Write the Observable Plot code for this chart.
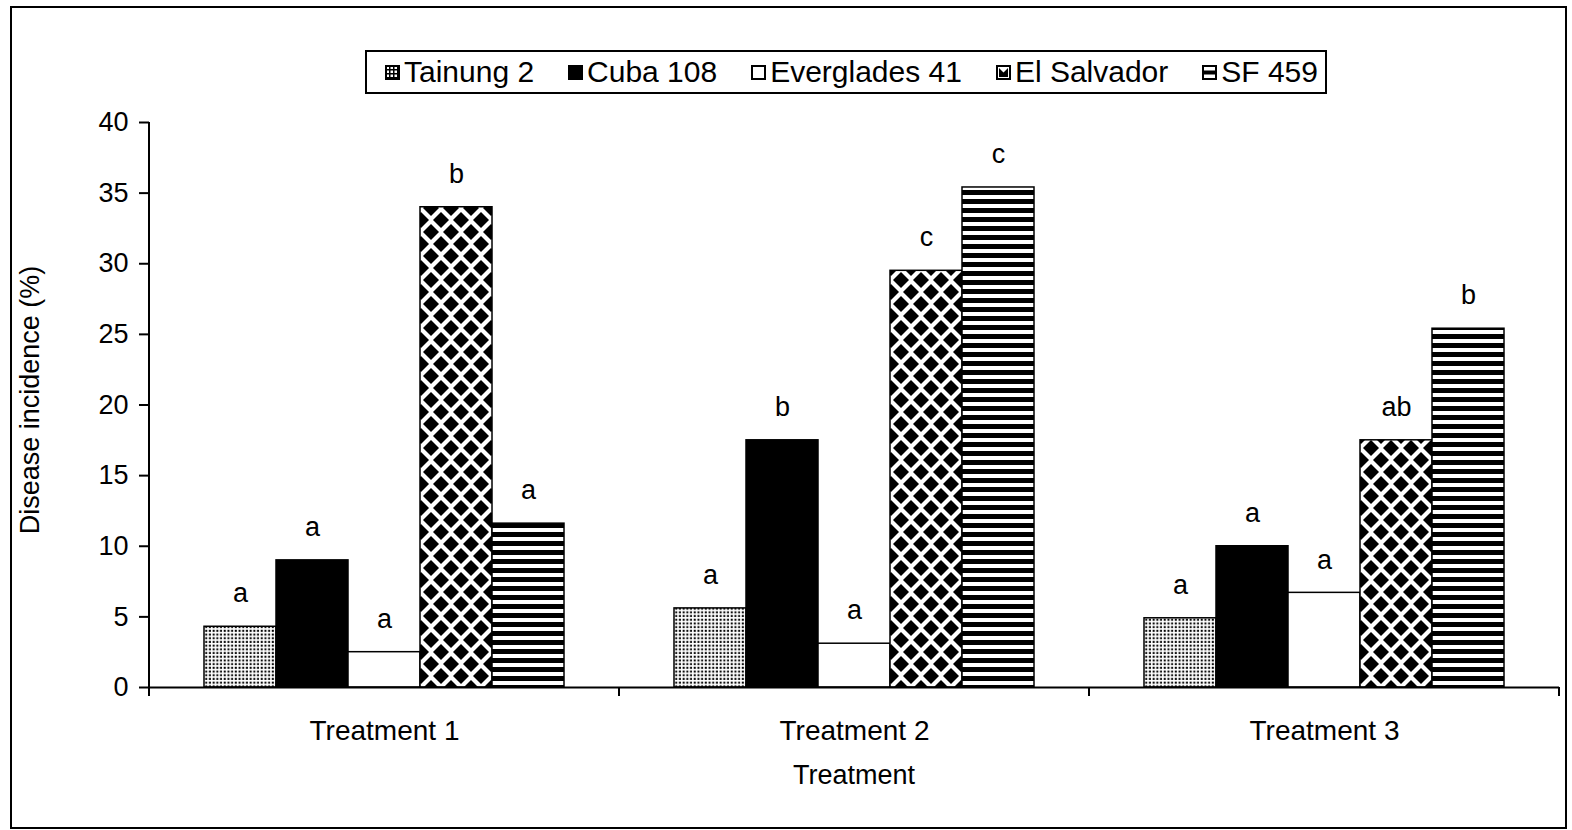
<!DOCTYPE html>
<html>
<head>
<meta charset="utf-8">
<script src="https://cdn.jsdelivr.net/npm/d3@7"></script>
<script src="https://cdn.jsdelivr.net/npm/@observablehq/plot@0.6"></script>
<style>
  html, body { margin: 0; padding: 0; background: #fff; }
  body { font-family: "Liberation Sans", Arial, sans-serif; color: #000; }
  #wrap { position: relative; width: 1572px; height: 830px; overflow: hidden; }
  #border { position: absolute; left: 10px; top: 6px; width: 1557px; height: 823px; border: 2px solid #000; box-sizing: border-box; }
  #legend { position: absolute; left: 365px; top: 50px; width: 962px; height: 44px; border: 2px solid #000; box-sizing: border-box;
            display: flex; align-items: center; justify-content: space-between; padding: 0 7px 0 18px; font-size: 30px; }
  .item { display: flex; align-items: center; white-space: nowrap; }
  .item svg { margin-right: 4px; }
  #chart { position: absolute; left: 0; top: 100px; }
  #ylabel { position: absolute; left: 30px; top: 400px; transform: translate(-50%, -50%) rotate(-90deg); font-size: 27px; white-space: nowrap; }
  #xlabel { position: absolute; left: 854px; top: 775px; transform: translate(-50%, -50%); font-size: 27px; white-space: nowrap; }
  #chart g[aria-label="y-axis tick"] { stroke-width: 2; }
</style>
</head>
<body>
<svg width="0" height="0" style="position:absolute">
  <defs>
    <pattern id="p-dots" patternUnits="userSpaceOnUse" width="3.7" height="3.7">
      <rect width="3.7" height="3.7" fill="#fff"/>
      <rect x="0.7" y="0.7" width="2" height="2" fill="#000"/>
    </pattern>
    <pattern id="p-diamond" patternUnits="userSpaceOnUse" width="20" height="24">
      <rect width="20" height="24" fill="#fff"/>
      <polygon points="10,4 18,12 10,20 2,12" fill="#000"/>
      <polygon points="0,-8 8,0 0,8 -8,0" fill="#000"/>
      <polygon points="20,-8 28,0 20,8 12,0" fill="#000"/>
      <polygon points="0,16 8,24 0,32 -8,24" fill="#000"/>
      <polygon points="20,16 28,24 20,32 12,24" fill="#000"/>
    </pattern>
    <pattern id="p-stripe" patternUnits="userSpaceOnUse" width="10" height="9">
      <rect width="10" height="9" fill="#fff"/>
      <rect y="0" width="10" height="5" fill="#000"/>
    </pattern>
    <pattern id="l-dots" patternUnits="userSpaceOnUse" width="4" height="4">
      <rect width="4" height="4" fill="#fff"/>
      <rect width="4" height="1.5" fill="#000"/>
      <rect width="1.5" height="4" fill="#000"/>
    </pattern>
  </defs>
</svg>
<div id="wrap">
  <div id="border"></div>
  <div id="legend"></div>
  <div id="chart"></div>
  <div id="ylabel">Disease incidence (%)</div>
  <div id="xlabel">Treatment</div>
</div>
<script>
// ---- data ----
const treatments = ["Treatment 1", "Treatment 2", "Treatment 3"];
const varieties = ["Tainung 2", "Cuba 108", "Everglades 41", "El Salvador", "SF 459"];
const t1Values = [4.3, 9.0, 2.5, 34.0, 11.6];
const t2Values = [5.6, 17.5, 3.1, 29.5, 35.4];
const t3Values = [4.9, 10.0, 6.7, 17.5, 25.4];
const t1Letters = ["a", "a", "a", "b", "a"];
const t2Letters = ["a", "b", "a", "c", "c"];
const t3Letters = ["a", "a", "a", "ab", "b"];
const yTicks = [0, 5, 10, 15, 20, 25, 30, 35, 40];
const fills = ["url(#p-dots)", "#000", "#fff", "url(#p-diamond)", "url(#p-stripe)"];

const valuesByT = [t1Values, t2Values, t3Values];
const lettersByT = [t1Letters, t2Letters, t3Letters];
const data = [];
treatments.forEach((t, i) => varieties.forEach((v, j) => {
  data.push({treatment: t, variety: v, value: valuesByT[i][j], letter: lettersByT[i][j]});
}));

// ---- legend ----
const legendSwatch = {
  "Tainung 2": `<rect x="1" y="1" width="13" height="13" fill="url(#l-dots)" stroke="#000" stroke-width="2"/>`,
  "Cuba 108": `<rect x="1" y="1" width="13" height="13" fill="#000" stroke="#000" stroke-width="2"/>`,
  "Everglades 41": `<rect x="1" y="1" width="13" height="13" fill="#fff" stroke="#000" stroke-width="2"/>`,
  "El Salvador": `<rect x="1" y="1" width="13" height="13" fill="#fff" stroke="#000" stroke-width="2"/><polygon points="3,3 7.5,7.5 12,3 12,12 3,12" fill="#000"/>`,
  "SF 459": `<rect x="1" y="1" width="13" height="13" fill="#fff" stroke="#000" stroke-width="2"/><rect x="2" y="5.5" width="11" height="4" fill="#000"/>`
};
const legend = document.getElementById("legend");
varieties.forEach(v => {
  const el = document.createElement("div");
  el.className = "item";
  el.innerHTML = `<svg width="15" height="15">${legendSwatch[v]}</svg><span>${v}</span>`;
  legend.appendChild(el);
});

// ---- chart ----
const plot = Plot.plot({
  width: 1572,
  height: 700,
  marginTop: 22,
  marginBottom: 113,
  marginLeft: 148,
  marginRight: 12,
  style: {fontFamily: "'Liberation Sans', Arial, sans-serif", fontSize: "27px", color: "#000", background: "transparent", overflow: "visible"},
  fx: {domain: treatments, padding: 0, axis: null},
  x: {domain: varieties, paddingInner: 0, paddingOuter: 0.75, axis: null},
  y: {domain: [0, 40], ticks: yTicks, tickSize: 10, tickPadding: 11, label: null, grid: false},
  color: {domain: varieties, range: fills},
  marks: [
    Plot.barY(data, {fx: "treatment", x: "variety", y: "value", fill: "variety", stroke: "#000", strokeWidth: 1.5, inset: 0}),
    Plot.text(data, {fx: "treatment", x: "variety", y: "value", text: "letter", dy: -33, fontSize: 27}),
    Plot.ruleY([0], {stroke: "#000", strokeWidth: 2}),
    Plot.text(treatments, {fx: d => d, text: d => d, frameAnchor: "bottom", dy: 52, fontSize: 28})
  ]
});
document.getElementById("chart").appendChild(plot);

// axis line and boundary ticks from the plot's own scales
const svg = d3.select(plot.tagName.toLowerCase() === "svg" ? plot : plot.querySelector("svg"));
const fxS = plot.scale("fx");
const yS = plot.scale("y");
const y0 = yS.apply(0), y40 = yS.apply(40);
const edges = [];
treatments.forEach(t => { const l = fxS.apply(t); edges.push(l, l + fxS.bandwidth); });
const uniq = Array.from(new Set(edges.map(e => Math.round(e * 10) / 10)));
const g = svg.append("g").attr("stroke", "#000").attr("stroke-width", 2);
g.append("line").attr("x1", uniq[0]).attr("x2", uniq[0]).attr("y1", y40).attr("y2", y0);
uniq.forEach(x => g.append("line").attr("x1", x).attr("x2", x).attr("y1", y0).attr("y2", y0 + 9));
</script>
</body>
</html>
